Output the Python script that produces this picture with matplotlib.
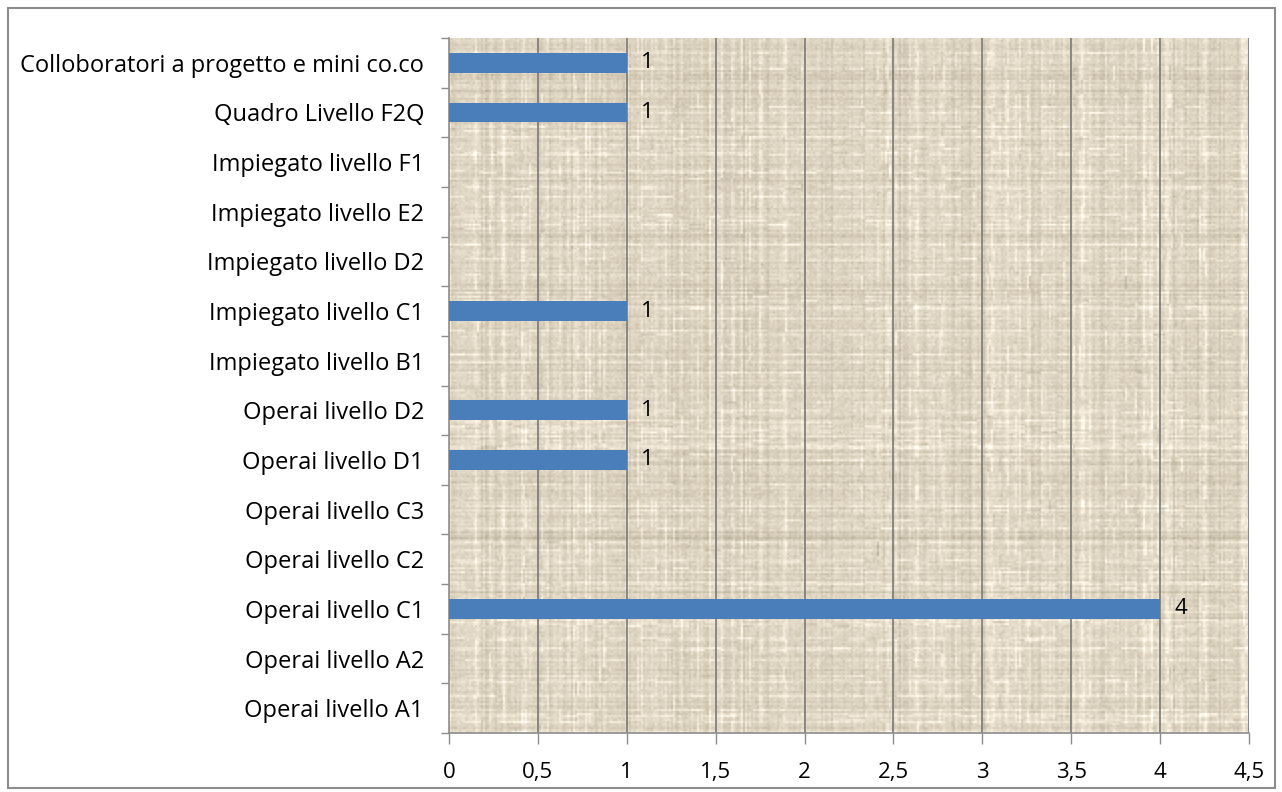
import matplotlib.pyplot as plt
from matplotlib.patches import Rectangle
import numpy as np

plt.rcParams['font.family'] = ['Open Sans', 'DejaVu Sans']

# categories from bottom to top
categories = ['Operai livello A1', 'Operai livello A2', 'Operai livello C1',
              'Operai livello C2', 'Operai livello C3', 'Operai livello D1',
              'Operai livello D2', 'Impiegato livello B1', 'Impiegato livello C1',
              'Impiegato livello D2', 'Impiegato livello E2', 'Impiegato livello F1',
              'Quadro Livello F2Q', 'Colloboratori a progetto e mini co.co']
values = [0, 0, 4, 0, 0, 1, 1, 0, 1, 0, 0, 0, 1, 1]
xticks = [0, 0.5, 1, 1.5, 2, 2.5, 3, 3.5, 4, 4.5]
xlabels = ['0', '0,5', '1', '1,5', '2', '2,5', '3', '3,5', '4', '4,5']

fs = 17

fig = plt.figure(figsize=(12.82, 7.92), dpi=100)
fig.patch.set_facecolor('white')

# grey frame around the whole chart
fig.patches.append(Rectangle((8 / 1282, 4 / 792), 1267 / 1282, 780 / 792,
                             transform=fig.transFigure, fill=False,
                             edgecolor='#8c8c8c', linewidth=1.5))

ax = fig.add_axes([449 / 1282, 59 / 792, 800 / 1282, 695 / 792])

# woven, burlap-like fill for the plot area
rng = np.random.default_rng(7)
h, w = 348, 400
rows = rng.normal(0, 1, h)[:, None]
cols = rng.normal(0, 1, w)[None, :]
hstreak = rng.normal(0, 1, (h, w // 8 + 1)).repeat(8, axis=1)[:, :w]
vstreak = rng.normal(0, 1, (h // 7 + 1, w)).repeat(7, axis=0)[:h, :]
fine = rng.normal(0, 1, (h, w))
shade = (0.028 * rows + 0.028 * cols + 0.03 * hstreak * (rows > 0.5)
         + 0.03 * vstreak * (cols > 0.5) + 0.022 * fine)
base = np.array([0.885, 0.847, 0.775])
tint = np.array([1.0, 1.0, 1.1])
tex = np.clip(base[None, None, :] + shade[:, :, None] * tint, 0, 1)
ax.imshow(tex, extent=[0, 4.5, -0.5, len(categories) - 0.5], aspect='auto',
          zorder=0, interpolation='antialiased')

ypos = np.arange(len(categories))
ax.barh(ypos, values, height=0.4, color='#4a7ebb', zorder=3)
for y, v in zip(ypos, values):
    if v > 0:
        ax.text(v + 0.08, y, str(v), va='center', ha='left', fontsize=fs - 1,
                color='black', zorder=4)

ax.set_xlim(0, 4.5)
ax.set_ylim(-0.5, len(categories) - 0.5)

for xv in xticks[1:]:
    ax.axvline(xv, color='#7a7a7a', linewidth=1.2, zorder=2)

ax.set_xticks(xticks)
ax.set_xticklabels(xlabels, fontsize=fs - 1)
ax.tick_params(axis='x', length=8, width=1, color='#8c8c8c', pad=13)

# tick marks between categories, labels at category centres
ax.set_yticks(np.arange(len(categories) + 1) - 0.5)
ax.set_yticklabels([])
ax.tick_params(axis='y', which='major', length=6, width=1, color='#8c8c8c')
ax.set_yticks(ypos, minor=True)
ax.set_yticklabels(categories, minor=True, fontsize=fs)
ax.tick_params(axis='y', which='minor', length=0, pad=18)

for side in ['top', 'right']:
    ax.spines[side].set_visible(False)
for side in ['left', 'bottom']:
    ax.spines[side].set_color('#8c8c8c')
    ax.spines[side].set_linewidth(1.2)

fig.savefig('out.png', dpi=100)
